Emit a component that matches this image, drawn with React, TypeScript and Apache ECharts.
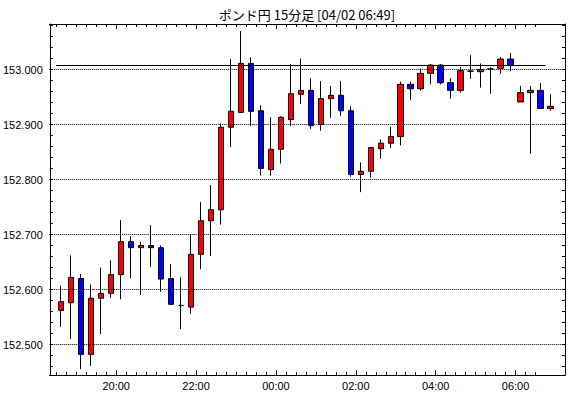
import React, { useEffect, useRef } from 'react';
import * as echarts from 'echarts';

const chartTitle = 'ポンド円 15分足 [04/02 06:49]';

const times = [
  '18:30', '18:45', '19:00', '19:15', '19:30', '19:45', '20:00', '20:15', '20:30', '20:45',
  '21:00', '21:15', '21:30', '21:45', '22:00', '22:15', '22:30', '22:45', '23:00', '23:15',
  '23:30', '23:45', '00:00', '00:15', '00:30', '00:45', '01:00', '01:15', '01:30', '01:45',
  '02:00', '02:15', '02:30', '02:45', '03:00', '03:15', '03:30', '03:45', '04:00', '04:15',
  '04:30', '04:45', '05:00', '05:15', '05:30', '05:45', '06:00', '06:15', '06:30', '06:45',
];

const opens = [
  152.562, 152.576, 152.620, 152.482, 152.584, 152.593, 152.627, 152.687, 152.676, 152.680,
  152.676, 152.620, 152.571, 152.568, 152.664, 152.725, 152.745, 152.895, 152.922, 153.011,
  152.925, 152.818, 152.855, 152.909, 152.955, 152.962, 152.900, 152.947, 152.953, 152.925,
  152.809, 152.815, 152.856, 152.866, 152.878, 152.973, 152.965, 152.993, 153.008, 152.976,
  152.962, 152.997, 152.996, 153.001, 153.002, 153.019, 152.941, 152.958, 152.962, 152.929,
];
const closes = [
  152.578, 152.622, 152.482, 152.584, 152.593, 152.627, 152.687, 152.676, 152.680, 152.676,
  152.619, 152.573, 152.571, 152.664, 152.725, 152.745, 152.895, 152.924, 153.011, 152.924,
  152.820, 152.855, 152.913, 152.956, 152.962, 152.898, 152.947, 152.953, 152.925, 152.809,
  152.815, 152.858, 152.866, 152.878, 152.973, 152.965, 152.993, 153.008, 152.976, 152.962,
  152.998, 152.997, 153.000, 153.001, 153.019, 153.007, 152.958, 152.962, 152.929, 152.933,
];
const lows = [
  152.532, 152.510, 152.455, 152.461, 152.519, 152.585, 152.582, 152.620, 152.590, 152.641,
  152.596, 152.573, 152.528, 152.556, 152.637, 152.661, 152.718, 152.859, 152.921, 152.897,
  152.807, 152.807, 152.829, 152.897, 152.937, 152.892, 152.889, 152.912, 152.916, 152.805,
  152.777, 152.803, 152.838, 152.857, 152.862, 152.945, 152.962, 152.973, 152.973, 152.947,
  152.958, 152.983, 152.967, 152.956, 152.992, 152.997, 152.941, 152.847, 152.929, 152.925,
];
const highs = [
  152.607, 152.662, 152.628, 152.609, 152.640, 152.653, 152.726, 152.697, 152.687, 152.717,
  152.680, 152.646, 152.622, 152.700, 152.759, 152.790, 152.902, 153.019, 153.070, 153.022,
  152.935, 152.913, 152.915, 153.010, 153.020, 152.984, 152.979, 152.970, 152.979, 152.933,
  152.831, 152.858, 152.873, 152.896, 152.978, 152.978, 153.002, 153.010, 153.010, 152.984,
  153.005, 153.026, 153.011, 153.004, 153.023, 153.030, 152.970, 152.970, 152.975, 152.955,
];

// horizontal reference level drawn across the chart
const refLevel = 153.008;
const refLineLastIndex = 48;

// y axis labels and minor ticks
const yTickLabels = [152.5, 152.6, 152.7, 152.8, 152.9, 153.0];
const yMinorTicks = [
  152.46, 152.48, 152.5, 152.52, 152.54, 152.56, 152.58, 152.6, 152.62, 152.64, 152.66,
  152.68, 152.7, 152.72, 152.74, 152.76, 152.78, 152.8, 152.82, 152.84, 152.86, 152.88,
  152.9, 152.92, 152.94, 152.96, 152.98, 153.0, 153.02, 153.04, 153.06, 153.08,
];

const X_MIN = -1.15;
const X_MAX = 50.45;
const Y_MAX = 153.0 + 45.5 / 550;
const Y_MIN = Y_MAX - 351 / 550;

const FONT = 'Liberation Sans';

export default function App() {
  const ref = useRef<HTMLDivElement>(null);

  useEffect(() => {
    if (!ref.current) return;
    const chart = echarts.init(ref.current, null, { renderer: 'svg' });

    const data = times.map((_, i) => [i, opens[i], closes[i], lows[i], highs[i]]);

    const majorPos: number[] = [];
    times.forEach((t, i) => {
      const [h, m] = t.split(':').map(Number);
      if (m === 0 && h % 2 === 0) majorPos.push(i - 0.5);
    });
    const minorPos = times
      .slice(0, times.length - 1)
      .map((_, i) => i - 0.5)
      .filter((p) => !majorPos.includes(p));
    const labelFor = (v: number) => {
      const idx = Math.round(v + 0.5);
      return times[idx] ?? '';
    };

    const black = { color: '#000', width: 1 };
    const xBase: any = {
      type: 'value',
      min: X_MIN,
      max: X_MAX,
      splitLine: { show: false },
      axisLine: { show: true, onZero: false, lineStyle: black },
      axisLabel: { show: false },
    };
    const yBase: any = {
      type: 'value',
      min: Y_MIN,
      max: Y_MAX,
      splitLine: { show: false },
      axisLine: { show: true, onZero: false, lineStyle: black },
      axisTick: { show: true, inside: true, length: 3, customValues: yMinorTicks, lineStyle: black },
    };

    chart.setOption({
      animation: false,
      backgroundColor: '#fff',
      graphic: [
        {
          type: 'text',
          x: 307,
          y: 14,
          style: {
            text: chartTitle,
            textAlign: 'center',
            textVerticalAlign: 'middle',
            fontSize: 13,
            fontFamily: 'Noto Sans CJK JP',
            fill: '#000',
          },
        },
      ],
      grid: { left: 49, right: 5, top: 24, bottom: 23, containLabel: false },
      xAxis: [
        {
          ...xBase,
          position: 'bottom',
          axisTick: { show: true, inside: true, length: 5, customValues: majorPos, lineStyle: black },
          axisLabel: {
            show: true,
            customValues: majorPos,
            formatter: (v: number) => labelFor(v),
            margin: 5,
            color: '#000',
            fontSize: 11,
            fontFamily: FONT,
          },
        },
        {
          ...xBase,
          position: 'bottom',
          axisTick: { show: true, inside: true, length: 3, customValues: minorPos, lineStyle: black },
        },
        {
          ...xBase,
          position: 'top',
          axisTick: { show: true, inside: true, length: 5, customValues: majorPos, lineStyle: black },
        },
        {
          ...xBase,
          position: 'top',
          axisTick: { show: true, inside: true, length: 3, customValues: minorPos, lineStyle: black },
        },
      ],
      yAxis: [
        {
          ...yBase,
          position: 'left',
          axisLabel: {
            show: true,
            customValues: yTickLabels,
            formatter: (v: number) => v.toFixed(3),
            margin: 7,
            color: '#000',
            fontSize: 11,
            fontFamily: FONT,
          },
        },
        {
          ...yBase,
          position: 'right',
          axisLabel: { show: false },
        },
      ],
      series: [
        {
          type: 'line',
          data: [],
          xAxisIndex: 0,
          yAxisIndex: 0,
          z: 1,
          silent: true,
          markLine: {
            silent: true,
            symbol: ['none', 'none'],
            label: { show: false },
            lineStyle: { color: '#000', type: 'dotted', width: 1 },
            data: yTickLabels.map((v) => ({ yAxis: v })),
          },
        },
        {
          type: 'candlestick',
          xAxisIndex: 0,
          yAxisIndex: 0,
          z: 3,
          barWidth: 6,
          data,
          itemStyle: {
            color: '#ff0000',
            color0: '#0000ff',
            borderColor: '#000',
            borderColor0: '#000',
            borderColorDoji: '#000',
            borderWidth: 1,
          },
          markLine: {
            silent: true,
            symbol: ['none', 'none'],
            label: { show: false },
            lineStyle: { color: '#000', type: 'solid', width: 1 },
            data: [
              [
                { coord: [-0.5, refLevel] },
                { coord: [refLineLastIndex + 0.5, refLevel] },
              ],
            ],
          },
        },
      ],
    });

    return () => chart.dispose();
  }, []);

  return (
    <div
      ref={ref}
      style={{ position: 'absolute', left: 0, top: 0, width: 570, height: 398, background: '#fff' }}
    />
  );
}
